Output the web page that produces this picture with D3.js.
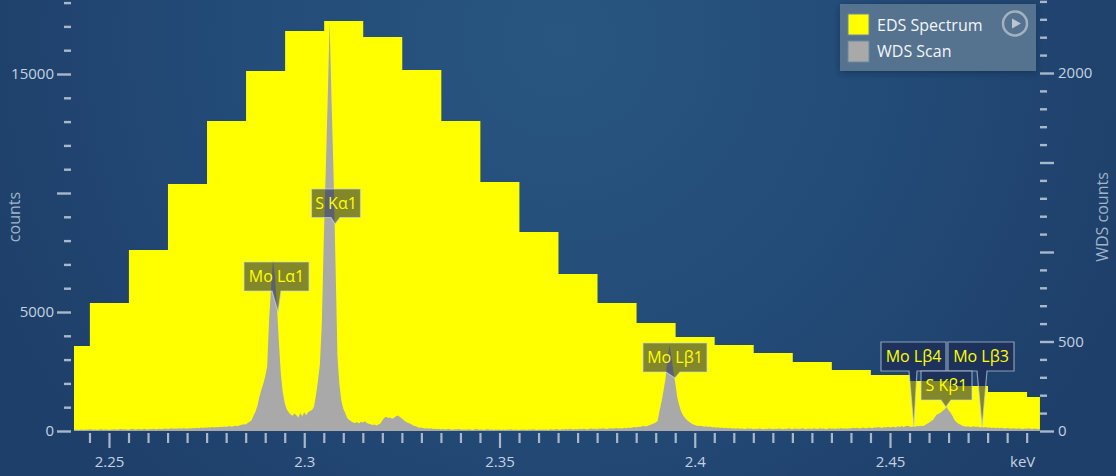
<!DOCTYPE html>
<html>
<head>
<meta charset="utf-8">
<script src="https://cdn.jsdelivr.net/npm/d3@7/dist/d3.min.js"></script>
<style>
html,body{margin:0;padding:0;background:#1f4068;overflow:hidden}
svg{display:block}
text{font-family:"Open Sans","Noto Sans",sans-serif}
</style>
</head>
<body>
<svg id="chart" width="1116" height="476"></svg>
<script>
// EDS spectrum: lower energy edge of each histogram bin (keV) and counts
const edsEnergy = [2.241,2.2451,2.2551,2.2651,2.2751,2.2851,2.2951,2.3051,2.3151,2.3251,2.3351,2.3451,2.3551,2.3651,2.3751,2.3851,2.3951,2.4051,2.4151,2.4251,2.4351,2.4451,2.4551,2.4651,2.4751,2.4851,2.4884];
const edsCounts = [3571,5378,7605,10378,13025,15126,16807,17227,16555,15168,13025,10462,8361,6597,5378,4538,3950,3613,3277,2899,2563,2353,2101,1891,1639,1429,1429];

// WDS scan: one reading per scan step
const wdsStart = 2.241;
const wdsStep = 0.0005;
const wdsCounts = [
6,8,5,7,9,6,8,7,10,8,7,9,6,8,10,7,9,8,6,9,
8,10,7,9,11,8,10,9,7,10,12,9,8,11,10,9,12,10,8,11,
10,12,9,11,13,10,12,14,11,13,15,12,14,13,15,12,16,14,13,16,
14,17,15,18,16,19,17,20,18,21,19,22,20,23,21,24,22,25,23,27,
27,24,28,30,27,32,35,38,36,44,52,60,85,108,140,190,229,262,305,360,
620,800,960,860,700,500,320,215,156,122,105,92,85,98,88,76,100,82,105,88,
105,112,118,135,200,280,370,600,1067,1450,1850,2285,1840,1440,940,420,260,170,125,100,
72,62,55,48,45,50,42,52,48,54,44,40,38,34,36,31,36,42,58,74,
80,72,76,68,74,82,86,78,70,60,52,46,42,36,30,26,22,18,20,16,
14,16,12,15,11,13,10,12,9,11,8,10,12,9,7,10,8,11,9,7,
9,7,10,8,6,9,11,8,7,9,6,8,10,7,9,6,8,7,9,6,
8,6,9,7,10,6,8,7,5,9,7,8,6,9,7,10,8,6,9,7,
8,7,9,6,10,8,7,11,9,7,10,8,11,9,12,10,8,11,9,12,
10,13,11,9,12,14,11,13,10,14,12,15,13,11,14,16,13,15,17,14,
16,14,18,15,19,17,20,22,19,24,22,26,28,25,30,34,38,42,48,56,
115,165,225,290,400,480,420,340,270,190,145,110,88,72,62,52,44,38,34,30,
28,30,26,24,27,22,25,20,23,18,21,17,20,16,18,15,17,14,16,13,
15,12,14,13,11,15,12,14,10,13,11,14,12,10,13,11,14,12,10,13,
11,14,12,10,13,11,15,12,10,14,12,13,11,15,12,10,14,13,11,15,
13,11,15,12,14,10,13,16,12,14,11,15,13,17,12,15,13,16,14,18,
15,18,16,14,19,17,15,20,18,16,21,18,23,19,17,22,20,24,19,22,
24,20,26,22,28,23,26,30,25,22,27,24,28,26,30,28,34,40,46,54,
62,78,92,96,104,112,122,134,116,102,84,62,50,40,36,30,26,24,27,22,
24,26,22,25,20,23,19,22,18,21,17,20,16,19,15,18,16,14,17,15,
13,16,14,12,15,13,11,14,12,15,13,11,14,12,10,13];

// Axis ticks
const energyMajor = [2.25,2.3,2.35,2.4,2.45];
const energyMajorLabels = ["2.25","2.3","2.35","2.4","2.45"];
const energyMinor = [2.245,2.255,2.26,2.265,2.27,2.275,2.28,2.285,2.29,2.295,2.305,2.31,2.315,2.32,2.325,2.33,2.335,2.34,2.345,2.355,2.36,2.365,2.37,2.375,2.38,2.385,2.39,2.395,2.405,2.41,2.415,2.42,2.425,2.43,2.435,2.44,2.445,2.455,2.46,2.465,2.47,2.475,2.48,2.485];
const countMajor = [0,5000,10000,15000];
const countLabelled = [0,5000,15000];
const countMinor = [1000,2000,3000,4000,6000,7000,8000,9000,11000,12000,13000,14000,16000,17000,18000];
const wdsMajor = [0,500,1000,1500,2000];
const wdsLabelled = [0,500,2000];
const wdsMinor = [100,200,300,400,600,700,800,900,1100,1200,1300,1400,1600,1700,1800,1900,2100,2200,2300,2400];

// Peak callouts: line name, energy of the pointer tip, WDS counts at the tip
const peakNames = ["Mo Lα1","S Kα1","Mo Lβ1","Mo Lβ4","Mo Lβ3","S Kβ1"];
const peakEnergy = [2.2933,2.3079,2.3949,2.4561,2.4736,2.4643];
const peakTipCounts = [665,1156,296,22,22,134];

const seriesNames = ["EDS Spectrum","WDS Scan"];

// ---- layout ----
const calloutBox = [
 {left:244,top:262,w:65,h:29,b0:272,b1:281},
 {left:311.5,top:189,w:49,h:28.5,b0:331,b1:340},
 {left:643,top:343,w:64,h:29,b0:666,b1:680},
 {left:881,top:342,w:65,h:29,b0:909,b1:917},
 {left:948,top:342,w:66,h:29,b0:977,b1:987},
 {left:921,top:371,w:51,h:29,b0:941,b1:951}
];
const FS = 16, TICK_FS = 15;

const svg = d3.select("#chart");
const defs = svg.append("defs");
const bg = defs.append("radialGradient").attr("id","bg").attr("gradientUnits","userSpaceOnUse")
  .attr("cx",560).attr("cy",40).attr("r",620);
bg.append("stop").attr("offset","0%").attr("stop-color","#285680");
bg.append("stop").attr("offset","55%").attr("stop-color","#234b77");
bg.append("stop").attr("offset","100%").attr("stop-color","#1e3f69");
defs.append("clipPath").attr("id","plot").append("rect").attr("x",74).attr("y",0).attr("width",966).attr("height",431);
const sh = defs.append("filter").attr("id","shadow").attr("x","-10%").attr("y","-20%").attr("width","120%").attr("height","140%");
sh.append("feDropShadow").attr("dx",0).attr("dy",2).attr("stdDeviation",3).attr("flood-color","#0c2038").attr("flood-opacity",0.45);

svg.append("rect").attr("width",1116).attr("height",476).attr("fill","url(#bg)");

const x = d3.scaleLinear().domain([2.25,2.45]).range([109,890]);
const yL = d3.scaleLinear().domain([0,15000]).range([431,74]);
const yR = d3.scaleLinear().domain([0,2000]).range([431,73]);

const plot = svg.append("g").attr("clip-path","url(#plot)");

const eds = edsEnergy.map((e,i)=>({e,c:edsCounts[i]}));
plot.append("path").datum(eds).attr("fill","#ffff00")
  .attr("d",d3.area().curve(d3.curveStepAfter).x(d=>x(d.e)).y0(yL(0)).y1(d=>yL(d.c)));

const wds = wdsCounts.map((c,i)=>({e:wdsStart+i*wdsStep,c}));
plot.append("path").datum(wds).attr("fill","#a9a9a9")
  .attr("d",d3.area().x(d=>x(d.e)).y0(yR(0)).y1(d=>yR(d.c)));

// axes
const tickCol = "#a8b8ca", textCol = "#c4d2e0";
function styleAxis(g,w){
  g.select(".domain").remove();
  g.selectAll("line").attr("stroke",tickCol).attr("stroke-width",w);
  g.selectAll("text").attr("fill",textCol).attr("font-size",TICK_FS);
}
function addAxis(gen,tx,ty,w){
  const g = svg.append("g").attr("transform",`translate(${tx},${ty})`).call(gen);
  styleAxis(g,w); return g;
}
const fmt = d=>String(d);
addAxis(d3.axisBottom(x).tickValues(energyMajor).tickSize(15).tickPadding(8)
  .tickFormat((d,i)=>energyMajorLabels[i]),0,433,2.2);
addAxis(d3.axisBottom(x).tickValues(energyMinor).tickSize(10).tickFormat(""),0,433,2.2);
addAxis(d3.axisLeft(yL).tickValues(countMajor).tickSize(14).tickPadding(3)
  .tickFormat(d=>countLabelled.includes(d)?fmt(d):""),71,0,2.4);
addAxis(d3.axisLeft(yL).tickValues(countMinor).tickSize(7).tickFormat(""),71,0,2.4);
addAxis(d3.axisRight(yR).tickValues(wdsMajor).tickSize(14).tickPadding(4)
  .tickFormat(d=>wdsLabelled.includes(d)?fmt(d):""),1040,0,2.4);
addAxis(d3.axisRight(yR).tickValues(wdsMinor).tickSize(7).tickFormat(""),1040,0,2.4);

svg.append("text").attr("x",1010).attr("y",467).attr("fill",textCol).attr("font-size",TICK_FS).text("keV");
svg.append("text").attr("transform","translate(20,217) rotate(-90)").attr("text-anchor","middle")
  .attr("fill","#9fb4c9").attr("font-size",FS).text("counts");
svg.append("text").attr("transform","translate(1108,217) rotate(-90)").attr("text-anchor","middle")
  .attr("fill","#9fb4c9").attr("font-size",FS).text("WDS counts");

// callouts
peakNames.forEach((name,i)=>{
  const b = calloutBox[i], tx = x(peakEnergy[i]), ty = yR(peakTipCounts[i]);
  const p = d3.path();
  p.moveTo(b.left,b.top); p.lineTo(b.left+b.w,b.top); p.lineTo(b.left+b.w,b.top+b.h);
  p.lineTo(b.b1,b.top+b.h); p.lineTo(tx,ty); p.lineTo(b.b0,b.top+b.h);
  p.lineTo(b.left,b.top+b.h); p.closePath();
  svg.append("path").attr("d",p.toString()).attr("fill","rgba(28,36,74,0.55)")
    .attr("stroke","rgba(205,218,232,0.62)").attr("stroke-width",1.2);
  svg.append("text").attr("x",b.left+b.w/2).attr("y",b.top+b.h/2+5.5).attr("text-anchor","middle")
    .attr("fill","#ffff00").attr("font-size",FS).text(name);
});

// legend
const lg = svg.append("g");
lg.append("rect").attr("x",840).attr("y",4).attr("width",196).attr("height",67)
  .attr("fill","#54728f").attr("filter","url(#shadow)");
const swatchCols = ["#ffff00","#a9a9a9"];
seriesNames.forEach((n,i)=>{
  lg.append("rect").attr("x",848).attr("y",14+i*27).attr("width",21).attr("height",21)
    .attr("fill",swatchCols[i]).attr("stroke","#6d87a1").attr("stroke-width",1);
  lg.append("text").attr("x",877).attr("y",31+i*26).attr("fill","#f2f6fa").attr("font-size",FS).text(n);
});
lg.append("circle").attr("cx",1015).attr("cy",23.5).attr("r",12).attr("fill","none")
  .attr("stroke","#a3b1c1").attr("stroke-width",2.5);
lg.append("path").attr("d","M1012,18.5L1021,23.5L1012,28.5Z").attr("fill","#b9c5d1");
</script>
</body>
</html>
